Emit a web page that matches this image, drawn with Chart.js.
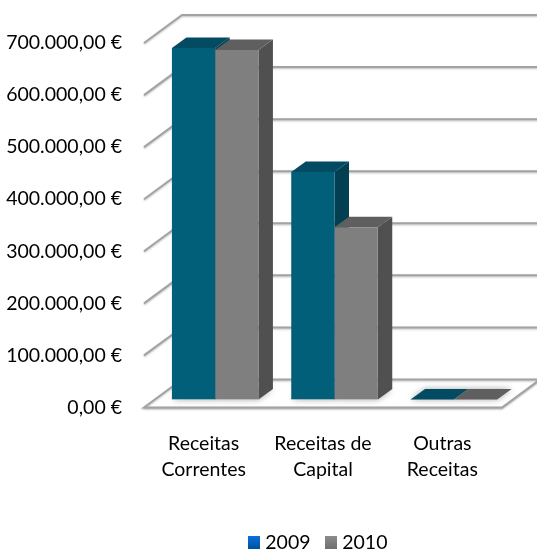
<!DOCTYPE html>
<html>
<head>
<meta charset="utf-8">
<style>html,body{margin:0;padding:0;background:#fff}canvas{display:block}</style>
<script src="https://cdn.jsdelivr.net/npm/chart.js@4"></script>
</head>
<body>
<canvas id="c" width="537" height="549"></canvas>
<script>
const categories = [["Receitas","Correntes"],["Receitas de","Capital"],["Outras","Receitas"]];
const seriesNames = ["2009","2010"];
const values2009 = [675000,437000,0];
const values2010 = [671000,331000,0];
const tickLabels = ["0,00 €","100.000,00 €","200.000,00 €","300.000,00 €","400.000,00 €","500.000,00 €","600.000,00 €","700.000,00 €"];

const FONT = {family:"Lato", size:19.5};
const FLOOR = {dx:38, dy:-28};   // depth of the floor and walls
const SLOT = {dx:11.5, dy:-8};   // where the bars stand on the floor
const BAR = {dx:14.5, dy:-10.5}; // depth of each bar
const COLORS = [
  {front:"#025F7A", top:"#024B62", side:"#023F52"},
  {front:"#7F7F7F", top:"#5F5F5F", side:"#505050"}
];
const GRID = "#A3A3A3";

function poly(ctx, pts, fill){
  ctx.beginPath();
  pts.forEach((p,i)=> i? ctx.lineTo(p[0],p[1]) : ctx.moveTo(p[0],p[1]));
  ctx.closePath();
  ctx.fillStyle = fill;
  ctx.fill();
}
function stroke(ctx, pts){
  ctx.beginPath();
  pts.forEach((p,i)=> i? ctx.lineTo(p[0],p[1]) : ctx.moveTo(p[0],p[1]));
  ctx.stroke();
}
function swatch(c0,c1){
  const s=document.createElement("canvas");
  s.width=12;s.height=13;
  const x=s.getContext("2d");
  const g=x.createLinearGradient(0,0,0,13);
  g.addColorStop(0,c0);g.addColorStop(1,c1);
  x.fillStyle=g;x.fillRect(0,0,12,13);
  return s;
}
const swatches=[swatch("#0A72E0","#00509E"),swatch("#8C8C8C","#707070")];

const threeD = {
  id:"threeD",
  afterLayout(chart){
    const lg=chart.legend, h=lg.bottom-lg.top;
    lg.top = 549-h+13; lg.bottom = lg.top+h;
    lg.left -= 3; lg.right -= 3;
  },
  beforeDatasetsDraw(chart){
    const {ctx, chartArea:a, scales:{y}} = chart;
    ctx.save();
    ctx.lineWidth = 2;
    ctx.strokeStyle = GRID;
    ctx.shadowColor = "rgba(0,0,0,0.25)";
    ctx.shadowBlur = 2;
    ctx.shadowOffsetY = 1;
    tickLabels.forEach((t,i)=>{
      if(i===0) return;
      const py = y.getPixelForValue(i*100000);
      stroke(ctx,[[a.left,py],[a.left+FLOOR.dx,py+FLOOR.dy],[chart.width+4,py+FLOOR.dy]]);
    });
    const y0 = y.getPixelForValue(0);
    ctx.fillStyle="#fff";
    ctx.beginPath();
    ctx.moveTo(a.left,y0);ctx.lineTo(a.left+FLOOR.dx,y0+FLOOR.dy);
    ctx.lineTo(a.right+FLOOR.dx,y0+FLOOR.dy);ctx.lineTo(a.right,y0);ctx.closePath();
    ctx.fill();ctx.stroke();
    ctx.restore();

    ctx.save();
    ctx.translate(SLOT.dx,SLOT.dy);
    chart.data.datasets.forEach((d,di)=>{
      chart.getDatasetMeta(di).data.forEach(el=>{
        const l=el.x-el.width/2, r=el.x+el.width/2, b=el.base;
        ctx.save();
        ctx.shadowColor="rgba(0,0,0,0.35)";
        ctx.shadowBlur=6;
        poly(ctx,[[l,b],[l+BAR.dx,b+BAR.dy],[r+BAR.dx,b+BAR.dy],[r,b]],"#ccc");
        ctx.restore();
      });
    });
    chart.data.labels.forEach((_,ci)=>{
      chart.data.datasets.forEach((d,di)=>{
        const el = chart.getDatasetMeta(di).data[ci];
        const l=el.x-el.width/2, r=el.x+el.width/2, t=el.y, b=el.base, c=COLORS[di];
        if(b-t>0) poly(ctx,[[r,t],[r+BAR.dx,t+BAR.dy],[r+BAR.dx,b+BAR.dy],[r,b]],c.side);
        poly(ctx,[[l,t],[l+BAR.dx,t+BAR.dy],[r+BAR.dx,t+BAR.dy],[r,t]],c.top);
      });
    });
  },
  afterDatasetsDraw(chart){ chart.ctx.restore(); }
};

new Chart(document.getElementById("c"),{
  type:"bar",
  plugins:[threeD],
  data:{
    labels:categories,
    datasets:[
      {label:seriesNames[0],data:values2009,backgroundColor:COLORS[0].front,borderWidth:0},
      {label:seriesNames[1],data:values2010,backgroundColor:COLORS[1].front,borderWidth:0}
    ]
  },
  options:{
    responsive:false,
    animation:false,
    layout:{padding:{top:43,right:35,left:0,bottom:0}},
    datasets:{bar:{categoryPercentage:0.725,barPercentage:1}},
    plugins:{
      tooltip:{enabled:false},
      title:{display:false},
      legend:{
        position:"bottom",
        fullSize:false,
        labels:{
          font:FONT,color:"#000",padding:19,usePointStyle:true,pointStyleWidth:3,boxHeight:12,
          generateLabels(){
            return seriesNames.map((n,i)=>({text:n,fillStyle:"#000",strokeStyle:"transparent",lineWidth:0,hidden:false,datasetIndex:i,pointStyle:swatches[i]}));
          }
        }
      }
    },
    scales:{
      x:{
        grid:{display:false,drawTicks:false},
        border:{display:false},
        afterFit(s){s.height=93;},
        ticks:{color:"#000",font:{...FONT,lineHeight:1.35},padding:23,maxRotation:0,minRotation:0,autoSkip:false}
      },
      y:{
        min:0,max:700000,
        grid:{display:false,drawTicks:false},
        border:{display:false},
        afterFit(s){s.width=144;},
        ticks:{stepSize:100000,color:"#000",font:FONT,padding:22,
          callback(v){return tickLabels[Math.round(v/100000)];}}
      }
    }
  }
});
</script>
</body>
</html>
